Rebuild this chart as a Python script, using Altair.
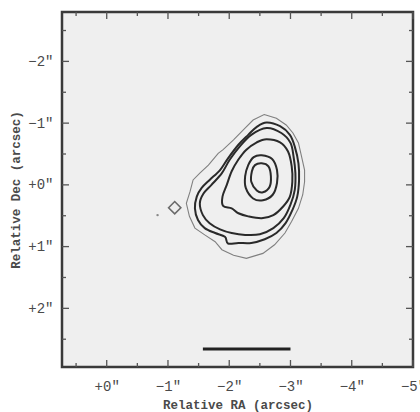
import altair as alt
import pandas as pd

# ---- data (arcsec) ----
c1_ra = [-2.57, -2.77, -2.93, -3.04, -3.13, -3.18, -3.23, -3.23, -3.20, -3.13, -3.02, -2.91, -2.74, -2.55, -2.28, -2.07, -1.88, -1.77, -1.60, -1.44, -1.35, -1.30, -1.36, -1.41, -1.52, -1.66, -1.82, -1.90, -2.07, -2.23, -2.39]
c1_dec = [-1.14, -1.08, -0.97, -0.84, -0.68, -0.46, -0.24, -0.05, 0.16, 0.38, 0.59, 0.78, 0.97, 1.11, 1.19, 1.14, 1.05, 0.92, 0.81, 0.70, 0.51, 0.30, 0.11, -0.08, -0.19, -0.32, -0.51, -0.57, -0.73, -0.89, -1.05]

c2_ra = [-2.61, -2.83, -2.99, -3.07, -3.13, -3.14, -3.11, -3.03, -2.92, -2.77, -2.58, -2.36, -2.15, -1.98, -1.93, -1.77, -1.60, -1.49, -1.44, -1.47, -1.55, -1.68, -1.85, -1.98, -2.15, -2.31, -2.45]
c2_dec = [-1.01, -0.95, -0.81, -0.62, -0.35, -0.08, 0.19, 0.41, 0.62, 0.78, 0.88, 0.94, 0.94, 0.95, 0.84, 0.78, 0.70, 0.57, 0.38, 0.19, 0.05, -0.08, -0.24, -0.43, -0.65, -0.81, -0.94]

c3_ra = [-2.61, -2.85, -3.00, -3.05, -3.08, -3.07, -3.00, -2.89, -2.72, -2.50, -2.26, -2.04, -1.85, -1.68, -1.57, -1.52, -1.58, -1.71, -1.88, -2.01, -2.17, -2.36]
c3_dec = [-0.92, -0.84, -0.68, -0.46, -0.19, 0.08, 0.32, 0.54, 0.70, 0.80, 0.81, 0.78, 0.72, 0.62, 0.49, 0.30, 0.14, 0.00, -0.19, -0.41, -0.62, -0.81]

c4_ra = [-2.61, -2.83, -2.96, -3.02, -3.03, -2.99, -2.88, -2.72, -2.53, -2.31, -2.15, -2.04, -1.90, -1.89, -1.96, -2.04, -2.15, -2.28, -2.45]
c4_dec = [-0.74, -0.69, -0.54, -0.30, -0.05, 0.19, 0.35, 0.49, 0.54, 0.51, 0.46, 0.38, 0.34, 0.19, 0.00, -0.22, -0.41, -0.57, -0.69]

c5_ra = [-2.53, -2.70, -2.78, -2.78, -2.71, -2.55, -2.39, -2.27, -2.26, -2.31, -2.40]
c5_dec = [-0.48, -0.42, -0.24, -0.03, 0.16, 0.25, 0.22, 0.05, -0.14, -0.32, -0.45]

c6_ra = [-2.53, -2.64, -2.68, -2.66, -2.55, -2.45, -2.36, -2.37, -2.42]
c6_dec = [-0.35, -0.30, -0.14, 0.03, 0.12, 0.09, -0.05, -0.22, -0.32]

knot_ra = [-1.01, -1.11, -1.21, -1.11]
knot_dec = [0.37, 0.27, 0.37, 0.47]

dot_ra = [-0.83]
dot_dec = [0.49]

bar_ra = [-1.57, -3.00]
bar_dec = [2.66]

x_major = [0, -1, -2, -3, -4, -5]
x_minor = [0.5, -0.5, -1.5, -2.5, -3.5, -4.5]
y_major = [-2, -1, 0, 1, 2]
y_minor = [-2.5, -1.5, -0.5, 0.5, 1.5, 2.5]

x_domain = [-5.0, 0.73]
y_domain = [-2.8, 2.95]

# ---- build tables ----
def poly(name, ras, decs):
    return pd.DataFrame({"ra": ras, "dec": decs, "cid": name, "i": range(len(ras))})

thin_df = poly("c1", c1_ra, c1_dec)
thick_df = pd.concat([poly("c2", c2_ra, c2_dec), poly("c3", c3_ra, c3_dec), poly("c4", c4_ra, c4_dec)])
ring_df = pd.concat([poly("c5", c5_ra, c5_dec), poly("c6", c6_ra, c6_dec)])
knot_df = poly("k", knot_ra, knot_dec)
dot_df = pd.DataFrame({"ra": dot_ra, "dec": dot_dec})
bar_df = pd.DataFrame({"ra": [bar_ra[0]], "ra2": [bar_ra[1]], "dec": bar_dec})

W, H = 351, 355
xs = alt.Scale(domain=x_domain, reverse=True, nice=False, zero=False)
ys = alt.Scale(domain=y_domain, reverse=True, nice=False, zero=False)

lab = "datum.value > 0 ? '+' + datum.value + '″' : (datum.value == 0 ? '+0″' : '−' + abs(datum.value) + '″')"

base_axis_style = dict(ticks=False, domain=False, grid=False, labelFont="Liberation Mono", labelFontSize=14,
                       labelColor="#4a4a4a", titleFont="Liberation Mono", titleFontSize=12.5,
                       titleColor="#4a4a4a", titleFontWeight="bold", labelFlush=False)

x_axis = alt.Axis(values=x_major, labelExpr=lab, title="Relative RA (arcsec)", labelPadding=12,
                  titlePadding=5, **base_axis_style)
y_axis = alt.Axis(values=y_major, labelExpr=lab, title="Relative Dec (arcsec)", labelPadding=9,
                  titlePadding=5, **base_axis_style)

X = lambda f="ra": alt.X(f"{f}:Q", scale=xs, axis=x_axis, title="Relative RA (arcsec)")
Y = lambda f="dec": alt.Y(f"{f}:Q", scale=ys, axis=y_axis, title="Relative Dec (arcsec)")

thin = alt.Chart(thin_df).mark_line(interpolate="linear-closed", color="#808080", strokeWidth=1.1).encode(
    x=X(), y=Y(), order="i:Q", detail="cid:N")
thick = alt.Chart(thick_df).mark_line(interpolate="cardinal-closed", color="#2a2a2a", strokeWidth=2).encode(
    x=X(), y=Y(), order="i:Q", detail="cid:N")
ring = alt.Chart(ring_df).mark_line(interpolate="cardinal-closed", color="#2a2a2a", strokeWidth=2).encode(
    x=X(), y=Y(), order="i:Q", detail="cid:N")
knot = alt.Chart(knot_df).mark_line(interpolate="linear-closed", color="#6a6a6a", strokeWidth=1.6).encode(
    x=X(), y=Y(), order="i:Q", detail="cid:N")
dot = alt.Chart(dot_df).mark_circle(color="#888", size=6, opacity=1).encode(x=X(), y=Y())
bar = alt.Chart(bar_df).mark_rule(color="#222", strokeWidth=3).encode(x=X(), x2="ra2:Q", y=Y())

tick_col = "#555"
def xticks(vals, length):
    df = pd.DataFrame({"v": vals})
    b = alt.Chart(df).mark_rule(color=tick_col, strokeWidth=1.3)
    bx = X("v")
    return [b.encode(x=bx, y=alt.value(H), y2=alt.value(H - length)),
            b.encode(x=bx, y=alt.value(0), y2=alt.value(length))]

def yticks(vals, length):
    df = pd.DataFrame({"v": vals})
    b = alt.Chart(df).mark_rule(color=tick_col, strokeWidth=1.3)
    by = Y("v")
    return [b.encode(y=by, x=alt.value(0), x2=alt.value(length)),
            b.encode(y=by, x=alt.value(W), x2=alt.value(W - length))]

ticks = xticks(x_major, 7) + xticks(x_minor, 4) + yticks(y_major, 7) + yticks(y_minor, 4)

chart = alt.layer(thin, thick, ring, knot, dot, bar, *ticks).properties(
    width=W, height=H,
    autosize=alt.AutoSizeParams(type="none"),
    padding={"left": 62, "top": 12, "right": 7, "bottom": 45},
    background="white",
).configure_view(fill="#efefef", stroke="#3a3a3a", strokeWidth=2.5)

chart.save("out.html", embed_options={"renderer": "svg", "actions": False})
